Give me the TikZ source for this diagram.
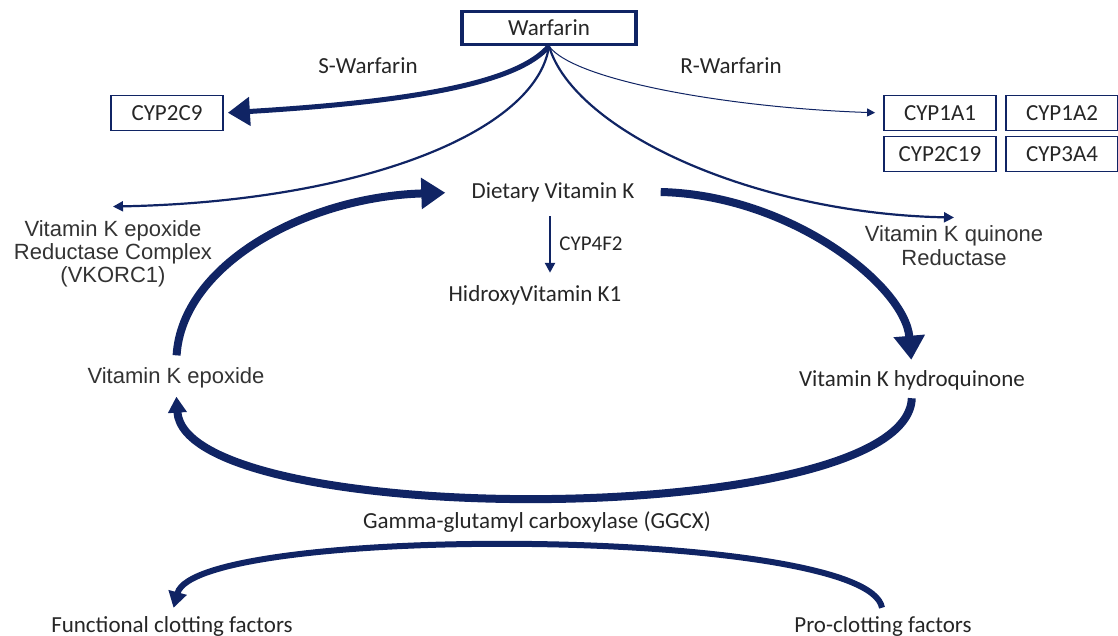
\documentclass[tikz,border=0pt]{standalone}
\usepackage{fontspec}
\setmainfont{Carlito}
\newfontfamily\arialfont{Liberation Sans}
\usetikzlibrary{arrows.meta}
\definecolor{navy}{RGB}{16,36,100}

\begin{document}
\begin{tikzpicture}[x=0.5pt, y=-0.5pt,
  every node/.style={font=\fontsize{11.5}{14}\selectfont, text=black!85, inner sep=1pt},
  drug/.style={draw=navy, line width=1.6pt, minimum width=87pt, minimum height=16.5pt, inner sep=0pt},
  enzyme/.style={draw=navy, line width=0.9pt, minimum width=56pt, minimum height=17.5pt, inner sep=0pt},
  arial/.style={font=\arialfont\fontsize{11}{11.4}\selectfont, align=center, text=black!80},
  bigflow/.style={draw=navy, line width=4pt, -{Triangle[length=12pt,width=15pt]}},
  midflow/.style={draw=navy, line width=1.1pt, -{Triangle[length=5pt,width=5pt]}},
  thinflow/.style={draw=navy, line width=0.5pt, -{Triangle[length=4pt,width=4pt]}}
]
\useasboundingbox (0,0) rectangle (1118,636);

\node[drug] (war) at (549,28) {Warfarin};
\node (sw) at (368,66) {S-Warfarin};
\node (rw) at (731,66) {R-Warfarin};
\node[enzyme] (cyp2c9) at (167,113) {CYP2C9};
\node[enzyme] (cyp1a1) at (940,113) {CYP1A1};
\node[enzyme] (cyp1a2) at (1062,113) {CYP1A2};
\node[enzyme] (cyp2c19) at (940,154) {CYP2C19};
\node[enzyme] (cyp3a4) at (1062,154) {CYP3A4};

\node (dvk) at (553,192) {Dietary Vitamin K};
\node (hvk) at (535,295) {HidroxyVitamin K1};
\node[font=\fontsize{10.5}{12}\selectfont] (cyp4f2) at (591,244) {CYP4F2};
\node[arial] (vkor) at (113,254) {Vitamin K epoxide\\Reductase Complex\\(VKORC1)};
\node[arial, font=\arialfont\fontsize{11}{12}\selectfont] (vkqr) at (954,246) {Vitamin K quinone\\Reductase};
\node[arial] (epox) at (176,378) {Vitamin K epoxide};
\node (hydro) at (912,380) {Vitamin K hydroquinone};
\node (ggcx) at (537,522) {Gamma-glutamyl carboxylase (GGCX)};
\node (func) at (172,626) {Functional clotting factors};
\node (pro) at (883,626) {Pro-clotting factors};

% warfarin metabolism
\draw[bigflow, line width=2.5pt, -{Triangle[length=11pt,width=14pt]}, shorten >=2pt] (war.south) .. controls +(-30,35) and +(200,-12) .. (cyp2c9.east);
\draw[thinflow, shorten >=4pt] (war.south) .. controls +(25,35) and +(-150,-5) .. (cyp1a1.west);
\draw[midflow] (war.south) .. controls +(-12,85) and +(250,-5) .. ([yshift=6pt]vkor.north);
\draw[midflow] (war.south) .. controls +(25,85) and +(-200,-4) .. ([yshift=3pt]vkqr.north);

% vitamin K cycle
\draw[bigflow, shorten <=5pt, shorten >=12pt] (epox.north) .. controls +(6,-100) and +(-165,5) .. (dvk.west);
\draw[bigflow, shorten >=4pt] ([xshift=12pt]dvk.east) .. controls +(130,3) and +(-7,-82) .. (hydro.north);
\draw[midflow, line width=1.3pt, shorten <=6pt, shorten >=5pt] ([xshift=-1.5pt]dvk.south) -- ([xshift=-1.5pt]dvk.south |- hvk.north);
\draw[bigflow, line width=4pt, -{Triangle[length=8pt,width=9pt]}, shorten <=3pt, shorten >=3pt]
  (hydro.south) .. controls +(-5,138) and +(9,140) .. (epox.south);
\draw[bigflow, line width=3pt, -{Triangle[length=8pt,width=9pt]}, shorten <=3pt, shorten >=3pt]
  (pro.north) .. controls +(-15,-87) and +(24,-90) .. (func.north);
\end{tikzpicture}
\end{document}
